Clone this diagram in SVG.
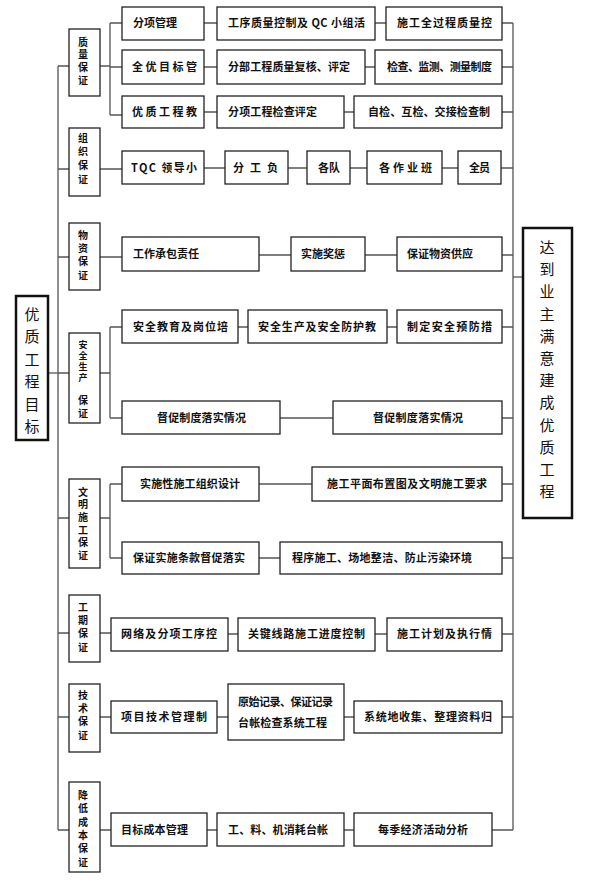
<svg xmlns="http://www.w3.org/2000/svg" width="589" height="889" viewBox="0 0 589 889">
<style>
.bx{fill:#fff;stroke:#222;stroke-width:1.3}
.mb{fill:#fff;stroke:#111;stroke-width:2.5}
.ln{fill:none;stroke:#555;stroke-width:1.3}
text{font-family:"Noto Sans CJK SC","Noto Sans",sans-serif;font-size:11px;font-weight:bold;fill:#111}
.v{writing-mode:vertical-rl;font-size:10px}
.vs{writing-mode:vertical-rl;font-size:9px}
.big{font-size:15px;font-weight:normal;text-anchor:middle}
</style>
<rect width="589" height="889" fill="#fff"/>
<g id="connectors">
<path class="ln" d="M58,66V830M513,23V830"/>
<path class="ln" d="M48,373H58"/>
<path class="ln" d="M513,277H523"/>
<path class="ln" d="M58,66H69M100,66H110M110,23V115M110,23H122M110,67H122M110,115H122"/>
<path class="ln" d="M204,23H217M375,23H386M502,23H513"/>
<path class="ln" d="M204,67H217M365,67H375M502,67H513"/>
<path class="ln" d="M204,112H217M344,112H354M502,112H513"/>
<path class="ln" d="M58,169H69M100,169H122M204,168H225M288,168H307M350,168H367M442,168H458M501,168H513"/>
<path class="ln" d="M58,257H69M100,257H122M259,255H291M365,255H397M502,255H513"/>
<path class="ln" d="M58,373H69M100,373H110M110,327V418M110,327H122M110,418H122"/>
<path class="ln" d="M238,327H248M387,327H397M502,327H513"/>
<path class="ln" d="M280,418H333M502,418H513"/>
<path class="ln" d="M58,518H69M100,518H110M110,484V558M110,484H122M110,558H122"/>
<path class="ln" d="M259,484H312M502,484H513"/>
<path class="ln" d="M259,558H280M502,558H513"/>
<path class="ln" d="M58,633H69M100,633H111M228,634H238M375,634H387M502,634H513"/>
<path class="ln" d="M58,717H69M100,717H111M217,717H228M344,717H354M502,717H513"/>
<path class="ln" d="M58,830H69M100,830H111M207,830H217M344,830H354M492,830H513"/>
</g>

<g id="goal">
<rect class="mb" x="16" y="296" width="32" height="144"/>
<text class="big" x="32" y="320">优<tspan x="32" dy="22.4">质</tspan><tspan x="32" dy="22.4">工</tspan><tspan x="32" dy="22.4">程</tspan><tspan x="32" dy="22.4">目</tspan><tspan x="32" dy="22.4">标</tspan></text>
</g>
<g id="result">
<rect class="mb" x="523" y="228" width="49" height="290"/>
<text class="big" x="547" y="253">达<tspan x="547" dy="22.2">到</tspan><tspan x="547" dy="22.2">业</tspan><tspan x="547" dy="22.2">主</tspan><tspan x="547" dy="22.2">满</tspan><tspan x="547" dy="22.2">意</tspan><tspan x="547" dy="22.2">建</tspan><tspan x="547" dy="22.2">成</tspan><tspan x="547" dy="22.2">优</tspan><tspan x="547" dy="22.2">质</tspan><tspan x="547" dy="22.2">工</tspan><tspan x="547" dy="22.2">程</tspan></text>
</g>

<g id="cat-quality">
<rect class="bx" x="69" y="29" width="31" height="67"/>
<text class="v" x="83" y="37" letter-spacing="2.7">质量保证</text>
</g>
<g id="q1"><rect class="bx" x="122" y="7" width="82" height="33"/><text x="133" y="27" textLength="44" lengthAdjust="spacing">分项管理</text></g>
<g id="q2"><rect class="bx" x="217" y="7" width="158" height="33"/><text x="228" y="27" textLength="137" lengthAdjust="spacing">工序质量控制及 QC 小组活</text></g>
<g id="q3"><rect class="bx" x="386" y="7" width="116" height="33"/><text x="397" y="27" textLength="95" lengthAdjust="spacing">施工全过程质量控</text></g>
<g id="q4"><rect class="bx" x="122" y="50" width="82" height="34"/><text x="132" y="71" textLength="65" lengthAdjust="spacing">全优目标管</text></g>
<g id="q5"><rect class="bx" x="217" y="50" width="148" height="34"/><text x="228" y="71" textLength="122" lengthAdjust="spacing">分部工程质量复核、评定</text></g>
<g id="q6"><rect class="bx" x="375" y="50" width="127" height="34"/><text x="387" y="71" textLength="105" lengthAdjust="spacing">检查、监测、测量制度</text></g>
<g id="q7"><rect class="bx" x="122" y="96" width="82" height="32"/><text x="132" y="116" textLength="65" lengthAdjust="spacing">优质工程教</text></g>
<g id="q8"><rect class="bx" x="217" y="96" width="127" height="32"/><text x="228" y="116" textLength="89" lengthAdjust="spacing">分项工程检查评定</text></g>
<g id="q9"><rect class="bx" x="354" y="96" width="148" height="32"/><text x="368" y="116" textLength="122" lengthAdjust="spacing">自检、互检、交接检查制</text></g>

<g id="cat-org">
<rect class="bx" x="69" y="128" width="31" height="68"/>
<text class="v" x="83" y="133" letter-spacing="3.7">组织保证</text>
</g>
<g id="o1"><rect class="bx" x="122" y="151" width="82" height="33"/><text x="131" y="172" textLength="66" lengthAdjust="spacing">TQC 领导小</text></g>
<g id="o2"><rect class="bx" x="225" y="151" width="63" height="33"/><text x="233" y="172" textLength="45" lengthAdjust="spacing">分 工 负</text></g>
<g id="o3"><rect class="bx" x="307" y="151" width="43" height="33"/><text x="318" y="172" textLength="22" lengthAdjust="spacing">各队</text></g>
<g id="o4"><rect class="bx" x="367" y="151" width="75" height="33"/><text x="379" y="172" textLength="53" lengthAdjust="spacing">各 作 业 班</text></g>
<g id="o5"><rect class="bx" x="458" y="151" width="43" height="33"/><text x="469" y="172" textLength="21" lengthAdjust="spacing">全员</text></g>

<g id="cat-material">
<rect class="bx" x="69" y="223" width="31" height="67"/>
<text class="v" x="83" y="230" letter-spacing="3.3">物资保证</text>
</g>
<g id="m1"><rect class="bx" x="122" y="237" width="137" height="34"/><text x="133" y="258" textLength="66" lengthAdjust="spacing">工作承包责任</text></g>
<g id="m2"><rect class="bx" x="291" y="237" width="74" height="34"/><text x="301" y="258" textLength="44" lengthAdjust="spacing">实施奖惩</text></g>
<g id="m3"><rect class="bx" x="397" y="237" width="105" height="34"/><text x="407" y="258" textLength="66" lengthAdjust="spacing">保证物资供应</text></g>

<g id="cat-safety">
<rect class="bx" x="69" y="333" width="31" height="90"/>
<text class="vs" x="83" y="340.5" letter-spacing="1.8">安全生产</text>
<text class="v" x="83" y="395" letter-spacing="3">保证</text>
</g>
<g id="s1"><rect class="bx" x="122" y="310" width="116" height="33"/><text x="133" y="331" textLength="95" lengthAdjust="spacing">安全教育及岗位培</text></g>
<g id="s2"><rect class="bx" x="248" y="310" width="139" height="33"/><text x="258" y="331" textLength="118" lengthAdjust="spacing">安全生产及安全防护教</text></g>
<g id="s3"><rect class="bx" x="397" y="310" width="105" height="33"/><text x="407" y="331" textLength="85" lengthAdjust="spacing">制定安全预防措</text></g>
<g id="s4"><rect class="bx" x="122" y="401" width="158" height="33"/><text x="157" y="422" textLength="89" lengthAdjust="spacing">督促制度落实情况</text></g>
<g id="s5"><rect class="bx" x="333" y="401" width="169" height="33"/><text x="373" y="422" textLength="90" lengthAdjust="spacing">督促制度落实情况</text></g>

<g id="cat-civil">
<rect class="bx" x="69" y="479" width="31" height="89"/>
<text class="v" x="83" y="487" letter-spacing="2.6">文明施工保证</text>
</g>
<g id="c1"><rect class="bx" x="122" y="467" width="137" height="34"/><text x="140" y="488" textLength="100" lengthAdjust="spacing">实施性施工组织设计</text></g>
<g id="c2"><rect class="bx" x="312" y="467" width="190" height="34"/><text x="327" y="488" textLength="160" lengthAdjust="spacing">施工平面布置图及文明施工要求</text></g>
<g id="c3"><rect class="bx" x="122" y="542" width="137" height="32"/><text x="133" y="562" textLength="112" lengthAdjust="spacing">保证实施条款督促落实</text></g>
<g id="c4"><rect class="bx" x="280" y="542" width="222" height="32"/><text x="292" y="562" textLength="180" lengthAdjust="spacing">程序施工、场地整洁、防止污染环境</text></g>

<g id="cat-schedule">
<rect class="bx" x="69" y="595" width="31" height="67"/>
<text class="v" x="83" y="602" letter-spacing="3.3">工期保证</text>
</g>
<g id="t1"><rect class="bx" x="111" y="618" width="117" height="33"/><text x="121" y="638" textLength="96" lengthAdjust="spacing">网络及分项工序控</text></g>
<g id="t2"><rect class="bx" x="238" y="618" width="137" height="33"/><text x="248" y="638" textLength="117" lengthAdjust="spacing">关键线路施工进度控制</text></g>
<g id="t3"><rect class="bx" x="387" y="618" width="115" height="33"/><text x="397" y="638" textLength="95" lengthAdjust="spacing">施工计划及执行情</text></g>

<g id="cat-tech">
<rect class="bx" x="69" y="684" width="31" height="68"/>
<text class="v" x="83" y="690" letter-spacing="3.3">技术保证</text>
</g>
<g id="k1"><rect class="bx" x="111" y="701" width="106" height="32"/><text x="121" y="721" textLength="86" lengthAdjust="spacing">项目技术管理制</text></g>
<g id="k2"><rect class="bx" x="228" y="684" width="116" height="56"/><text x="238" y="706" textLength="95" lengthAdjust="spacing">原始记录、保证记录</text><text x="238" y="727" textLength="89" lengthAdjust="spacing">台帐检查系统工程</text></g>
<g id="k3"><rect class="bx" x="354" y="701" width="148" height="32"/><text x="364" y="721" textLength="128" lengthAdjust="spacing">系统地收集、整理资料归</text></g>

<g id="cat-cost">
<rect class="bx" x="69" y="782" width="31" height="90"/>
<text class="v" x="83" y="790" letter-spacing="3.4">降低成本保证</text>
</g>
<g id="b1"><rect class="bx" x="111" y="813" width="96" height="33"/><text x="121" y="834" textLength="67" lengthAdjust="spacing">目标成本管理</text></g>
<g id="b2"><rect class="bx" x="217" y="813" width="127" height="33"/><text x="228" y="834" textLength="100" lengthAdjust="spacing">工、料、机消耗台帐</text></g>
<g id="b3"><rect class="bx" x="354" y="813" width="138" height="33"/><text x="378" y="834" textLength="90" lengthAdjust="spacing">每季经济活动分析</text></g>
</svg>
